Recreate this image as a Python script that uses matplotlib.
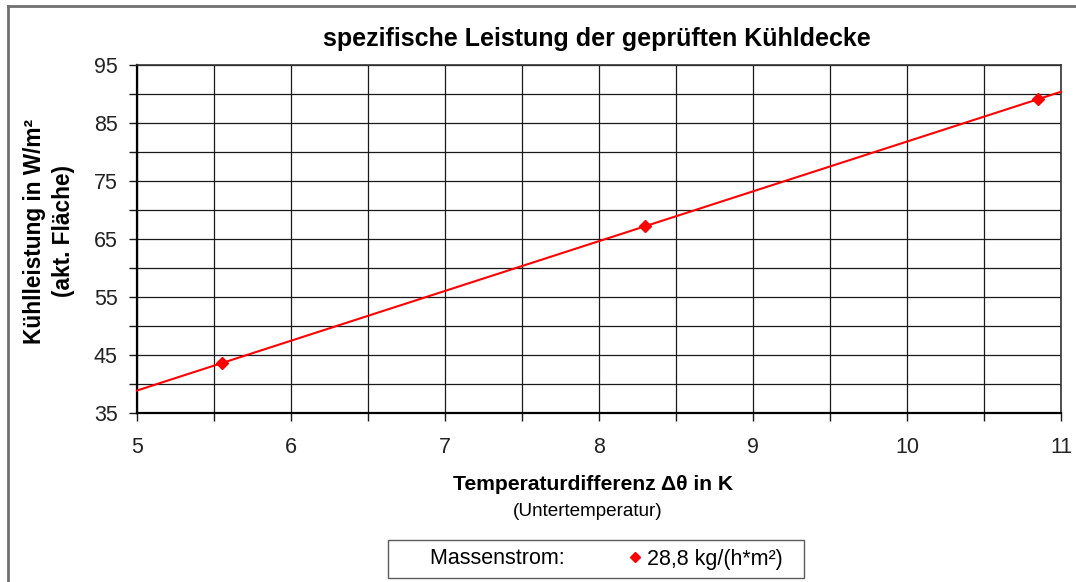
import numpy as np
import matplotlib
matplotlib.use("Agg")
import matplotlib.pyplot as plt
from matplotlib.lines import Line2D
from matplotlib.ticker import MultipleLocator

plt.rcParams['font.family'] = ['Liberation Sans', 'DejaVu Sans']

# data
dtheta = [5.55, 8.3, 10.85]
leistung = [43.6, 67.2, 89.1]
series_label = "28,8 kg/(h*m²)"
title = "spezifische Leistung der geprüften Kühldecke"
xlabel = "Temperaturdifferenz Δθ in K"
xlabel2 = "(Untertemperatur)"
ylabel = "Kühlleistung in W/m²\n(akt. Fläche)"
xticks = [5, 6, 7, 8, 9, 10, 11]
yticks = [35, 45, 55, 65, 75, 85, 95]

fig = plt.figure(figsize=(10.76, 5.82), dpi=100)
ax = fig.add_axes([137/1076, 1-413/582, (1061-137)/1076, (413-65)/582])

xlim = (xticks[0], xticks[-1])
ylim = (yticks[0], yticks[-1])

# trendline (linear fit)
coef = np.polyfit(dtheta, leistung, 1)
xs = np.array(xlim)
ax.plot(xs, np.polyval(coef, xs), color='#ff0000', lw=1.5, zorder=3, clip_on=False)
ax.plot(dtheta, leistung, linestyle='none', marker='D', color='#ff0000',
        markersize=6.5, zorder=4)

ax.set_xlim(*xlim)
ax.set_ylim(*ylim)
ax.set_xticks(xticks)
ax.set_yticks(yticks)
ax.xaxis.set_minor_locator(MultipleLocator(0.5))
ax.yaxis.set_minor_locator(MultipleLocator(5))
ax.grid(True, which='both', color='#1a1a1a', lw=0.9)
ax.set_axisbelow(True)
ax.tick_params(which='both', direction='out', length=6, width=1, color='#1a1a1a')
ax.tick_params(axis='x', which='major', pad=11, labelsize=15.5)
ax.tick_params(axis='y', which='major', pad=8, labelsize=15.5)
for lbl in ax.get_xticklabels() + ax.get_yticklabels():
    lbl.set_color('#222222')
for s in ['left', 'bottom']:
    ax.spines[s].set_linewidth(1.6)
    ax.spines[s].set_color('black')
for s in ['top', 'right']:
    ax.spines[s].set_linewidth(1.2)
    ax.spines[s].set_color('#333333')

fig.text(597/1076, 1-39/582, title, ha='center', va='center', fontsize=18, fontweight='bold')
fig.text(593/1076, 1-484/582, xlabel, ha='center', va='center', fontsize=15.2, fontweight='bold')
fig.text(588/1076, 1-511/582, xlabel2, ha='center', va='center', fontsize=13.6)
fig.text(49/1076, 1-231/582, ylabel, ha='center', va='center', rotation=90,
         fontsize=16.3, fontweight='bold', linespacing=1.3)

# legend
handles = [Line2D([], [], linestyle='none'),
           Line2D([], [], linestyle='none', marker='D', color='#ff0000', markersize=5.5)]
leg = fig.legend(handles, ['  Massenstrom:', series_label + '  '], ncol=2,
                 loc='center', bbox_to_anchor=(596/1076, 1-559/582),
                 fontsize=15.5, frameon=True, fancybox=False, edgecolor='#333333',
                 handlelength=0.8, handletextpad=0.15, columnspacing=2.9,
                 borderpad=0.4, borderaxespad=0)
leg.get_frame().set_linewidth(1.0)

# figure border (top and left)
fig.add_artist(Line2D([8/1076, 8/1076], [0, 1-6/582], transform=fig.transFigure,
                      color='#707070', lw=2))
fig.add_artist(Line2D([8/1076, 1], [1-6/582, 1-6/582], transform=fig.transFigure,
                      color='#707070', lw=2))

fig.savefig('out.png', dpi=100)
